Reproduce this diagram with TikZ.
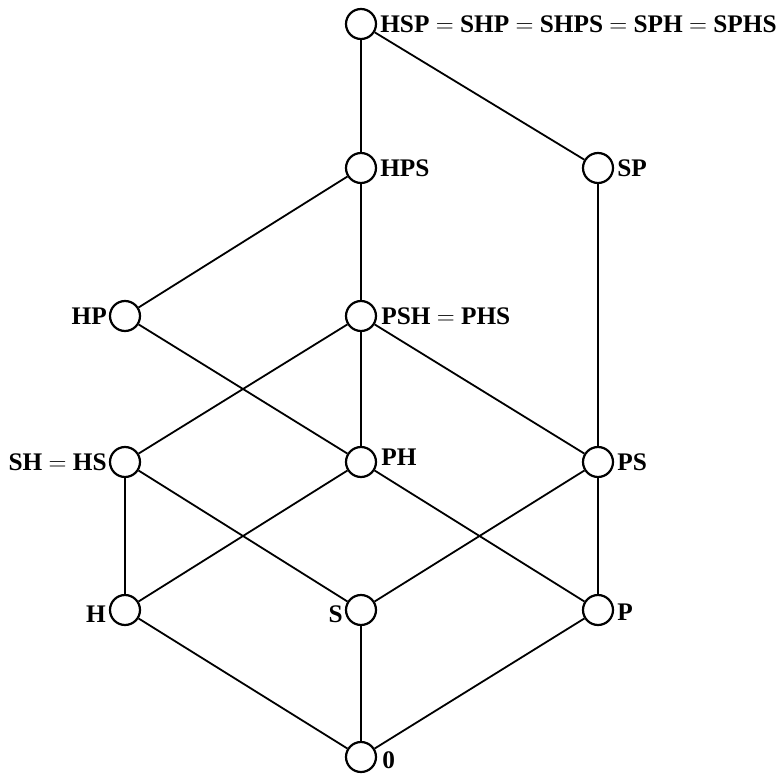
\documentclass[tikz,border=0pt]{standalone}
\usepackage{fontspec}
\setmainfont{Liberation Serif}
\begin{document}
\begin{tikzpicture}[x=1pt,y=-1pt,
  pt/.style={circle,draw,line width=2.2pt,minimum size=30pt,inner sep=0pt,fill=white},
  lb/.style={font=\bfseries\fontsize{25.3}{25}\selectfont,inner sep=0pt},
  edge/.style={line width=1.8pt}]
\useasboundingbox (0,0) rectangle (778,775);
\node[pt] (hsp) at (361,24) {};
\node[pt] (hps) at (361,168) {};
\node[pt] (sp) at (598,168) {};
\node[pt] (hp) at (125,316) {};
\node[pt] (psh) at (361,316) {};
\node[pt] (sh) at (125,462) {};
\node[pt] (ph) at (361,462) {};
\node[pt] (ps) at (598,462) {};
\node[pt] (h) at (125,610) {};
\node[pt] (s) at (361,610) {};
\node[pt] (p) at (598,610) {};
\node[pt] (z) at (361,757) {};
\draw[edge] (hsp) -- (hps);
\draw[edge] (hsp) -- (sp);
\draw[edge] (hps) -- (hp);
\draw[edge] (hps) -- (psh);
\draw[edge] (sp) -- (ps);
\draw[edge] (hp) -- (ph);
\draw[edge] (psh) -- (sh);
\draw[edge] (psh) -- (ph);
\draw[edge] (psh) -- (ps);
\draw[edge] (sh) -- (h);
\draw[edge] (sh) -- (s);
\draw[edge] (ph) -- (h);
\draw[edge] (ph) -- (p);
\draw[edge] (ps) -- (s);
\draw[edge] (ps) -- (p);
\draw[edge] (h) -- (z);
\draw[edge] (s) -- (z);
\draw[edge] (p) -- (z);
\node[lb,anchor=west] (lhsp) at ([xshift=3pt]hsp.east) {HSP $=$ SHP $=$ SHPS $=$ SPH $=$ SPHS};
\node[lb,anchor=west] (lhps) at ([xshift=3pt]hps.east) {HPS};
\node[lb,anchor=west] (lsp) at ([xshift=3pt]sp.east) {SP};
\node[lb,anchor=east] (lhp) at ([xshift=-2pt]hp.west) {HP};
\node[lb,anchor=west] (lpsh) at ([xshift=4pt]psh.east) {PSH $=$ PHS};
\node[lb,anchor=east] (lsh) at ([xshift=-2pt]sh.west) {SH $=$ HS};
\node[lb,anchor=west] (lph) at ([xshift=4pt,yshift=5pt]ph.east) {PH};
\node[lb,anchor=west] (lps) at ([xshift=3pt]ps.east) {PS};
\node[lb,anchor=east] (lh) at ([xshift=-3pt,yshift=-4pt]h.west) {H};
\node[lb,anchor=east] (ls) at ([xshift=-2pt,yshift=-4pt]s.west) {S};
\node[lb,anchor=west] (lp) at ([xshift=3pt,yshift=-2pt]p.east) {P};
\node[lb,anchor=west] (lz) at ([xshift=5pt,yshift=-3pt]z.east) {0};
\end{tikzpicture}
\end{document}
